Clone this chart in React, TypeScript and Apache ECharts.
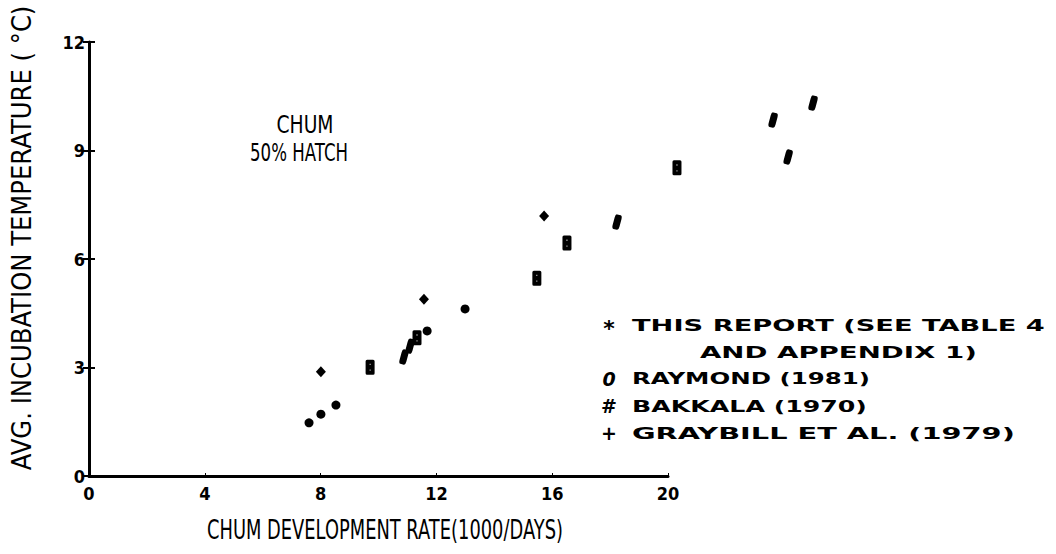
import { useEffect, useRef } from "react";
import * as echarts from "echarts";

// ---- data ----
const xTickValues = [0, 4, 8, 12, 16, 20];
const yTickValues = [0, 3, 6, 9, 12];
const thisReport = [[7.6, 1.47], [8.01, 1.71], [8.53, 1.96], [11.68, 4.01], [12.99, 4.62]];
const raymond = [[9.71, 3.01], [11.33, 3.82], [15.47, 5.47], [16.51, 6.44], [20.31, 8.52]];
const bakkala = [[10.88, 3.29], [11.09, 3.59], [18.24, 7.02], [23.63, 9.84], [24.15, 8.82], [25.01, 10.31]];
const graybill = [[8.01, 2.88], [11.57, 4.89], [15.72, 7.19]];
const legendTexts = [
  "THIS REPORT (SEE TABLE 4",
  "AND APPENDIX 1)",
  "RAYMOND (1981)",
  "BAKKALA (1970)",
  "GRAYBILL ET AL. (1979)",
];
const legendSymbols = ["*", "0", "#", "+"];
const xTitle = "CHUM DEVELOPMENT RATE(1000/DAYS)";
const yTitle = "AVG. INCUBATION TEMPERATURE ( °C)";
const noteLines = ["CHUM", "50% HATCH"];

let ctx: CanvasRenderingContext2D | null = null;
function measure(text: string, font: string) {
  if (!ctx) ctx = document.createElement("canvas").getContext("2d");
  ctx!.font = font;
  return ctx!.measureText(text).width;
}

const LEG_FONT = "DejaVu Sans";
const TITLE_FONT = "DejaVu Sans";
const RAYMOND_SYMBOL =
  "path://M1.5,0 H7.5 Q9,0 9,1.5 V13.5 Q9,15 7.5,15 H1.5 Q0,15 0,13.5 V1.5 Q0,0 1.5,0 Z M4.1,4 V5.4 H4.9 V4 Z M4.1,9.8 V11.2 H4.9 V9.8 Z";

function fitText(text: string, x: number, y: number, width: number, size: number, weight: string, family: string, align: string, extra: any = {}) {
  const w = measure(text, `${weight} ${size}px '${family}'`);
  return {
    type: "text",
    x,
    y,
    scaleX: width / w,
    ...extra,
    style: {
      text,
      fontSize: size,
      fontWeight: weight,
      fontFamily: family,
      fill: "#000",
      textAlign: align,
      textVerticalAlign: "middle",
      verticalAlign: "middle",
    },
  };
}

export default function App() {
  const ref = useRef<HTMLDivElement>(null);
  useEffect(() => {
    document.body.style.margin = "0";
    const chart = echarts.init(ref.current!, null, { renderer: "svg" });
    const left = 89, top = 42, w = 579, h = 434;
    const xMaxB = 32;
    const tickFont = "'DejaVu Sans Condensed','Liberation Sans Narrow','Liberation Sans',sans-serif";

    const legendSpec = [
      { x0: 632, x1: 1045, y: 325 },
      { x0: 700, x1: 977, y: 352 },
      { x0: 632, x1: 870, y: 379 },
      { x0: 632, x1: 867, y: 406 },
      { x0: 632, x1: 1015, y: 433 },
    ];
    const symbolY = [328, 379, 406, 433];

    const graphics: any[] = [];
    legendTexts.forEach((t, i) => {
      const s = legendSpec[i];
      graphics.push(fitText(t, s.x0, s.y, s.x1 - s.x0, 16, "bold", LEG_FONT, "left"));
    });
    legendSymbols.forEach((s, i) => {
      graphics.push({
        type: "text",
        x: 609,
        y: symbolY[i],
        style: {
          text: s,
          fontSize: i === 0 ? 22 : 19,
          fontWeight: "bold",
          fontStyle: i === 1 ? "italic" : "normal",
          fontFamily: LEG_FONT,
          fill: "#000",
          textAlign: "center",
          textVerticalAlign: "middle",
          verticalAlign: "middle",
        },
      });
    });
    graphics.push(fitText(noteLines[0], 305, 125, 57, 24, "normal", TITLE_FONT, "center"));
    graphics.push(fitText(noteLines[1], 299, 153, 98, 24, "normal", TITLE_FONT, "center"));
    graphics.push(fitText(xTitle, 385, 530, 356, 26, "normal", TITLE_FONT, "center"));
    graphics.push(fitText(yTitle, 22, 238, 465, 26, "normal", TITLE_FONT, "center", { rotation: Math.PI / 2 }));

    const mark = { color: "#000", opacity: 1 };
    chart.setOption({
      animation: false,
      backgroundColor: "#fff",
      grid: [
        { left, top, width: w, height: h },
        { left, top, width: (w / 20) * xMaxB, height: h },
      ],
      xAxis: [
        {
          gridIndex: 0, type: "value", min: 0, max: 20, interval: 4,
          axisLine: { show: true, lineStyle: { color: "#000", width: 3 } },
          axisTick: { show: true, inside: true, length: 3, lineStyle: { color: "#000", width: 1 } },
          axisLabel: {
            color: "#000", fontSize: 18, fontWeight: "bold", fontFamily: tickFont, margin: 8,
            formatter: (v: number) => (xTickValues.includes(v) ? String(v) : ""),
          },
          splitLine: { show: false },
        },
        {
          gridIndex: 1, type: "value", min: 0, max: xMaxB, show: false,
        },
      ],
      yAxis: [
        {
          gridIndex: 0, type: "value", min: 0, max: 12, interval: 3,
          axisLine: { show: true, lineStyle: { color: "#000", width: 3 } },
          axisTick: { show: true, length: 6, lineStyle: { color: "#000", width: 2 } },
          axisLabel: {
            color: "#000", fontSize: 18, fontWeight: "bold", fontFamily: tickFont, margin: 4,
            formatter: (v: number) => (yTickValues.includes(v) ? String(v) : ""),
          },
          splitLine: { show: false },
        },
        {
          gridIndex: 1, type: "value", min: 0, max: 12, interval: 3,
          axisLine: { show: false },
          axisTick: { show: true, inside: true, length: 6, lineStyle: { color: "#000", width: 2 } },
          axisLabel: { show: false },
          splitLine: { show: false },
        },
      ],
      series: [
        {
          name: "THIS REPORT", type: "scatter", xAxisIndex: 1, yAxisIndex: 1,
          data: thisReport, symbol: "circle", symbolSize: 9,
          itemStyle: mark,
        },
        {
          name: "RAYMOND (1981)", type: "scatter", xAxisIndex: 1, yAxisIndex: 1,
          data: raymond, symbol: RAYMOND_SYMBOL, symbolSize: [9, 15],
          itemStyle: mark,
        },
        {
          name: "BAKKALA (1970)", type: "scatter", xAxisIndex: 1, yAxisIndex: 1,
          data: bakkala, symbol: "roundRect", symbolSize: [7, 15], symbolRotate: -15,
          itemStyle: mark,
        },
        {
          name: "GRAYBILL ET AL. (1979)", type: "scatter", xAxisIndex: 1, yAxisIndex: 1,
          data: graybill, symbol: "diamond", symbolSize: [10, 11],
          itemStyle: mark,
        },
      ],
      graphic: graphics,
    });
    return () => chart.dispose();
  }, []);
  return <div ref={ref} style={{ width: 1056, height: 554 }} />;
}
